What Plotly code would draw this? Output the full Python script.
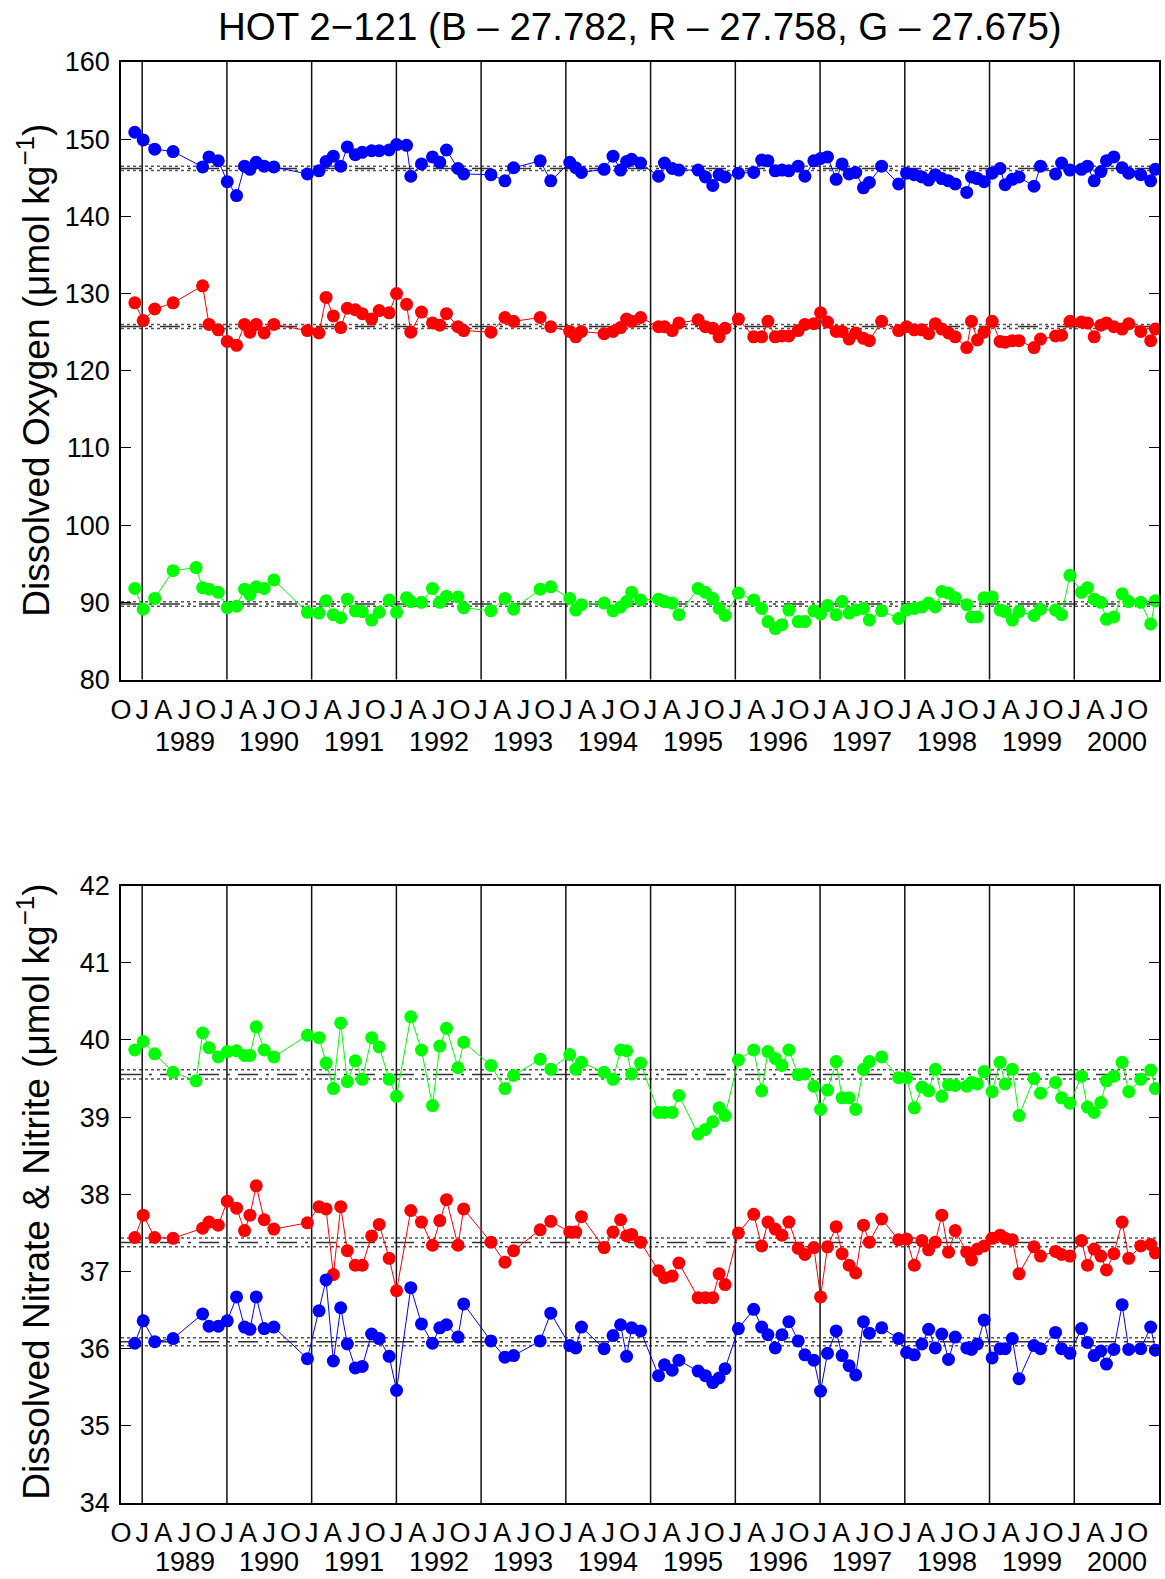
import plotly.graph_objects as go
import numpy as np

# Cruise dates (decimal years)
dates = [1988.913, 1989.012, 1989.148, 1989.365, 1989.636, 1989.713, 1989.789, 1989.898, 1990.004, 1990.114,
         1990.208, 1990.272, 1990.346, 1990.440, 1990.554,
         1990.950, 1991.087, 1991.170, 1991.256, 1991.343, 1991.421, 1991.515, 1991.597, 1991.708, 1991.797,
         1991.915, 1992.002, 1992.120, 1992.170, 1992.296, 1992.426, 1992.512, 1992.591, 1992.727, 1992.794,
         1993.116, 1993.281, 1993.383, 1993.697, 1993.822, 1994.046, 1994.117, 1994.184, 1994.451, 1994.557,
         1994.646, 1994.717, 1994.776, 1994.882,
         1995.094, 1995.164, 1995.255, 1995.334, 1995.561, 1995.647, 1995.734, 1995.808, 1995.879, 1996.036,
         1996.217, 1996.311, 1996.385, 1996.471, 1996.550, 1996.632, 1996.742, 1996.821, 1996.927, 1997.006,
         1997.088,
         1997.190, 1997.260, 1997.343, 1997.421, 1997.512, 1997.582, 1997.727, 1997.927, 1998.021, 1998.112,
         1998.202, 1998.281, 1998.360, 1998.437, 1998.516, 1998.595, 1998.731, 1998.787, 1998.857, 1998.936,
         1999.031, 1999.125, 1999.184,
         1999.269, 1999.348, 1999.525, 1999.602, 1999.779, 1999.850, 1999.949, 2000.085, 2000.156, 2000.235,
         2000.314, 2000.380, 2000.467, 2000.565, 2000.643, 2000.785, 2000.902, 2000.957]

# Dissolved oxygen (umol/kg)
o2_blue = [150.9, 149.9, 148.7, 148.4, None, 146.4, 147.7, 147.2, 144.5, 142.7,
           146.5, 146.1, 147.0, 146.5, 146.4,
           145.5, 145.9, 147.1, 147.8, 146.5, 149.0, 148.0, 148.3, 148.5, 148.5,
           148.6, 149.3, 149.2, 145.2, 146.8, 147.7, 147.0, 148.6, 146.2, 145.5,
           145.4, 144.6, 146.3, 147.2, 144.6, 147.0, 146.3, 145.7, 146.1, 147.8,
           146.0, 147.1, 147.4, 146.9,
           145.2, 146.9, 146.2, 146.0, 146.0, 145.1, 144.0, 145.4, 145.1, 145.6,
           145.7, 147.3, 147.2, 145.9, 146.0, 145.9, 146.5, 145.2, 147.2, 147.5,
           147.7,
           144.8, 146.8, 145.5, 145.7, 143.7, 144.4, 146.5, 144.2, 145.6, 145.4,
           145.1, 144.7, 145.4, 144.9, 144.6, 144.2, 143.1, 145.1, 144.9, 144.5,
           145.6, 146.2, 144.1,
           144.8, 145.1, 143.9, 146.5, 145.5, 146.9, 146.0, 146.1, 146.5, 144.6,
           145.8, 147.2, 147.7, 146.3, 145.6, 145.4, 144.6, 146.1]
o2_red = [128.8, 126.5, 128.0, 128.8, None, 131.0, 126.0, 125.3, 123.8, 123.3,
          126.0, 125.0, 126.0, 124.9, 126.0,
          125.2, 124.9, 129.5, 127.1, 125.6, 128.1, 127.9, 127.4, 126.7, 127.8,
          127.5, 130.0, 128.6, 125.0, 127.6, 126.2, 125.9, 127.4, 125.7, 125.2,
          125.0, 126.9, 126.4, 126.9, 125.7, 125.1, 124.4, 125.1, 124.8, 125.1,
          125.6, 126.7, 126.4, 126.9,
          125.7, 125.7, 125.2, 126.2, 126.6, 125.7, 125.5, 124.4, 125.5, 126.7,
          124.4, 124.4, 126.4, 124.4, 124.5, 124.5, 125.2, 126.0, 126.1, 127.5,
          126.3,
          125.1, 125.1, 124.1, 124.9, 124.2, 123.9, 126.4, 125.2, 125.7, 125.3,
          125.3, 124.8, 126.1, 125.4, 124.9, 124.4, 123.0, 126.4, 124.0, 125.0,
          126.4, 123.8, 123.7,
          123.9, 123.9, 123.0, 124.1, 124.5, 124.6, 126.4, 126.3, 126.2, 124.4,
          125.9, 126.2, 125.7, 125.4, 126.1, 125.1, 123.9, 125.4]
o2_green = [91.8, 89.1, 90.5, 94.1, 94.5, 91.9, 91.7, 91.3, 89.3, 89.5,
            91.7, 91.0, 92.0, 91.8, 92.9,
            88.7, 88.6, 90.2, 88.4, 88.0, 90.4, 88.9, 88.8, 87.7, 88.7,
            90.3, 88.7, 90.6, 90.1, 90.0, 91.8, 90.0, 90.8, 90.7, 89.3,
            88.9, 90.5, 89.1, 91.7, 92.0, 90.5, 89.0, 89.7, 89.9, 88.9,
            89.4, 90.1, 91.3, 90.3,
            90.4, 90.1, 89.9, 88.4, 91.8, 91.3, 90.5, 89.2, 88.3, 91.2,
            90.3, 89.2, 87.5, 86.6, 87.1, 89.0, 87.5, 87.5, 88.9, 88.5,
            89.6,
            88.4, 90.1, 88.6, 89.0, 89.2, 87.7, 88.9, 87.9, 89.0, 89.2,
            89.4, 89.9, 89.4, 91.4, 91.2, 90.6, 89.7, 88.1, 88.1, 90.6,
            90.7, 89.0, 88.8,
            87.7, 88.8, 88.3, 89.1, 89.0, 88.4, 93.5, 91.3, 91.9, 90.4,
            90.0, 87.8, 88.1, 91.1, 90.1, 90.0, 87.2, 90.2]

# Dissolved nitrate + nitrite (umol/kg)
no3_blue = [36.07, 36.36, 36.09, 36.13, None, 36.45, 36.29, 36.29, 36.36, 36.67,
            36.28, 36.25, 36.67, 36.26, 36.28,
            35.87, 36.49, 36.89, 35.84, 36.53, 36.06, 35.75, 35.77, 36.19, 36.13,
            35.90, 35.46, None, 36.79, 36.32, 36.07, 36.27, 36.31, 36.15, 36.58,
            36.10, 35.89, 35.91, 36.10, 36.46, 36.04, 36.01, 36.28, 36.00, 36.17,
            36.31, 35.90, 36.27, 36.23,
            35.65, 35.79, 35.72, 35.85, 35.71, 35.65, 35.56, 35.62, 35.74, 36.26,
            36.51, 36.28, 36.18, 36.01, 36.18, 36.35, 36.10, 35.92, 35.85, 35.45,
            35.94,
            36.23, 35.91, 35.78, 35.66, 36.35, 36.20, 36.27, 36.13, 35.95, 35.92,
            36.06, 36.25, 36.01, 36.19, 35.86, 36.15, 36.01, 35.99, 36.06, 36.37,
            35.88, 36.00, 36.00,
            36.13, 35.61, 36.04, 36.00, 36.21, 36.00, 35.94, 36.26, 36.08, 35.91,
            35.97, 35.80, 35.99, 36.57, 35.99, 36.00, 36.28, 35.98]
no3_red = [37.44, 37.73, 37.44, 37.43, None, 37.56, 37.64, 37.60, 37.91, 37.82,
           37.53, 37.73, 38.11, 37.67, 37.55,
           37.63, 37.84, 37.81, 36.96, 37.84, 37.27, 37.08, 37.08, 37.46, 37.61,
           37.17, 36.75, None, 37.79, 37.64, 37.34, 37.66, 37.93, 37.34, 37.81,
           37.38, 37.12, 37.27, 37.54, 37.65, 37.51, 37.51, 37.71, 37.31, 37.51,
           37.67, 37.46, 37.48, 37.38,
           37.01, 36.92, 36.94, 37.11, 36.66, 36.66, 36.66, 36.97, 36.83, 37.50,
           37.74, 37.33, 37.64, 37.55, 37.47, 37.64, 37.30, 37.22, 37.31, 36.67,
           37.32,
           37.58, 37.23, 37.08, 36.98, 37.60, 37.38, 37.68, 37.41, 37.42, 37.08,
           37.40, 37.28, 37.38, 37.73, 37.25, 37.53, 37.25, 37.15, 37.29, 37.33,
           37.43, 37.47, 37.43,
           37.41, 36.97, 37.32, 37.20, 37.26, 37.22, 37.20, 37.40, 37.08, 37.29,
           37.20, 37.02, 37.23, 37.64, 37.17, 37.33, 37.35, 37.24]
no3_green = [39.87, 39.98, 39.82, 39.58, 39.47, 40.09, 39.90, 39.78, 39.85, 39.86,
             39.80, 39.80, 40.17, 39.87, 39.78,
             40.06, 40.03, 39.70, 39.37, 40.22, 39.46, 39.73, 39.49, 40.03, 39.91,
             39.49, 39.27, None, 40.30, 39.87, 39.15, 39.92, 40.15, 39.64, 39.97,
             39.67, 39.37, 39.54, 39.75, 39.62, 39.81, 39.62, 39.71, 39.58, 39.49,
             39.87, 39.86, 39.56, 39.70,
             39.06, 39.06, 39.06, 39.28, 38.78, 38.84, 38.94, 39.12, 39.02, 39.74,
             39.87, 39.34, 39.85, 39.76, 39.67, 39.87, 39.55, 39.56, 39.40, 39.10,
             39.35,
             39.72, 39.25, 39.25, 39.10, 39.62, 39.72, 39.78, 39.51, 39.51, 39.12,
             39.39, 39.34, 39.62, 39.27, 39.42, 39.41, 39.40, 39.45, 39.43, 39.59,
             39.33, 39.71, 39.43,
             39.62, 39.02, 39.50, 39.31, 39.45, 39.25, 39.18, 39.53, 39.13, 39.06,
             39.19, 39.47, 39.53, 39.71, 39.33, 39.49, 39.61, 39.37]

years = list(range(1989, 2001))
quarter_letters = {0.0: "J", 0.25: "A", 0.5: "J", 0.75: "O"}
title_text = "HOT 2\u2212121 (B \u2013 27.782, R \u2013 27.758, G \u2013 27.675)"
ylabel_top = "Dissolved Oxygen (\u03bcmol kg<sup>\u22121</sup>)"
ylabel_bot = "Dissolved Nitrate & Nitrite (\u03bcmol kg<sup>\u22121</sup>)"

FONT = "Liberation Sans, Arial, Helvetica, sans-serif"
COLORS = {"blue": "#0000ff", "red": "#ff0000", "green": "#00ff00"}
TICK_SIZE = 27

fig = go.Figure()

panels = [
    ("x", "y", {"blue": o2_blue, "red": o2_red, "green": o2_green}),
    ("x2", "y2", {"blue": no3_blue, "red": no3_red, "green": no3_green}),
]

shapes = []
for xa, ya, series in panels:
    for name in ["green", "red", "blue"]:
        vals = series[name]
        xs = [d for d, v in zip(dates, vals) if v is not None]
        ys = [v for v in vals if v is not None]
        fig.add_trace(go.Scatter(
            x=xs, y=ys, mode="lines+markers", xaxis=xa, yaxis=ya,
            line=dict(color=COLORS[name], width=1),
            marker=dict(color=COLORS[name], size=13, line=dict(width=0)),
            showlegend=False, hoverinfo="skip"))
        arr = np.array(ys, dtype=float)
        m = arr.mean()
        se = 2 * arr.std(ddof=1) / np.sqrt(len(arr))
        for yv, dash, col in [(m + se, "dot", "#555555"), (m - se, "dot", "#555555"),
                              (m, "20px,8px,3px,8px", "#333333")]:
            shapes.append(dict(type="line", xref=xa + " domain", yref=ya, x0=0, x1=1,
                               y0=yv, y1=yv, layer="below",
                               line=dict(color=col, width=1.5, dash=dash)))
    for yr in years:
        shapes.append(dict(type="line", xref=xa, yref=ya + " domain", x0=yr, x1=yr,
                           y0=0, y1=1, layer="below",
                           line=dict(color="#111111", width=1.5)))

tickvals = [1988.75 + 0.25 * i for i in range(49)]
ticktext = [quarter_letters[round(t - np.floor(t), 2)] for t in tickvals]

xcommon = dict(range=[1988.75, 2001.0], tickvals=tickvals, ticktext=ticktext,
               ticks="", showline=True, linecolor="black", linewidth=1.5, mirror=True,
               tickfont=dict(family=FONT, size=TICK_SIZE, color="black"), showgrid=False,
               zeroline=False, ticklabelstandoff=5)
ycommon = dict(ticks="inside", ticklen=10, tickwidth=1.2, tickcolor="black",
               showline=True, linecolor="black", linewidth=1.8, mirror="ticks",
               tickfont=dict(family=FONT, size=TICK_SIZE, color="black"), showgrid=False,
               zeroline=False, ticklabelstandoff=4)

H = 1579
T, B = 62, 76
plot_h = H - T - B

def py(ypx):
    return (H - B - ypx) / plot_h

annotations = []
for yr in years:
    annotations.append(dict(x=yr + 0.5, y=py(742), xref="x", yref="paper", text=str(yr),
                            showarrow=False, font=dict(family=FONT, size=TICK_SIZE, color="black"),
                            xanchor="center", yanchor="middle"))
    annotations.append(dict(x=yr + 0.5, y=py(1579), xref="x2", yref="paper", text=str(yr),
                            showarrow=False, font=dict(family=FONT, size=TICK_SIZE, color="black"),
                            xanchor="center", yanchor="bottom"))
annotations.append(dict(x=(33 - 120.5) / 1040.5, y=py(370), xref="paper", yref="paper",
                        text=ylabel_top, textangle=-90, showarrow=False,
                        font=dict(family=FONT, size=37, color="black"),
                        xanchor="center", yanchor="middle"))
annotations.append(dict(x=(33 - 120.5) / 1040.5, y=py(1192), xref="paper", yref="paper",
                        text=ylabel_bot, textangle=-90, showarrow=False,
                        font=dict(family=FONT, size=37, color="black"),
                        xanchor="center", yanchor="middle"))
annotations.append(dict(x=(641 - 120.5) / 1040.5, y=py(26), xref="paper", yref="paper",
                        text=title_text, showarrow=False,
                        font=dict(family=FONT, size=38.5, color="black"),
                        xanchor="center", yanchor="middle"))

fig.update_layout(
    width=1165, height=H,
    margin=dict(l=120.5, r=4, t=T, b=B),
    paper_bgcolor="white", plot_bgcolor="white",
    xaxis=dict(domain=[0, 1], anchor="y", **xcommon),
    yaxis=dict(domain=[py(679.5), 1], anchor="x", range=[80, 160],
               tickvals=list(range(80, 161, 10)), **ycommon),
    xaxis2=dict(domain=[0, 1], anchor="y2", **xcommon),
    yaxis2=dict(domain=[0, py(885.6)], anchor="x2", range=[34, 42],
                tickvals=list(range(34, 43)), **ycommon),
    shapes=shapes, annotations=annotations,
)

fig.write_html("out.html")
